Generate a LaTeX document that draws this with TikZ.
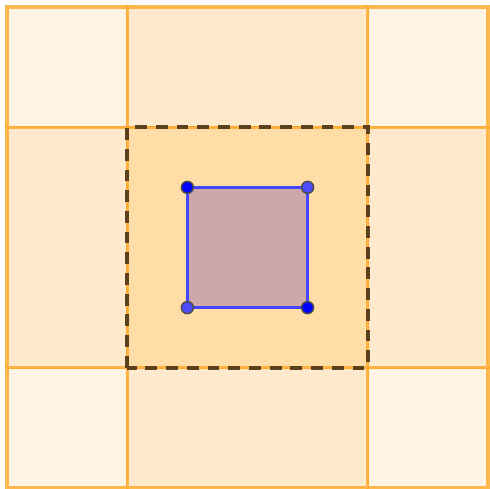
\documentclass[tikz,border=0pt]{standalone}
\usepackage{tikz}

\definecolor{cornerfill}{HTML}{FFF3E3}
\definecolor{edgefill}{HTML}{FFE9CC}
\definecolor{centerfill}{HTML}{FFDDA6}
\definecolor{innerfill}{HTML}{CCA8A8}
\definecolor{gridline}{HTML}{FFA726}
\definecolor{dashline}{HTML}{4A3418}
\definecolor{sqline}{HTML}{4545FF}
\definecolor{darkpt}{HTML}{0000FF}
\definecolor{lightpt}{HTML}{4D4DFF}

\tikzset{
  cell/.style={draw=gridline, draw opacity=0.8, line width=0.8pt},
  pt/.style={draw=black!70, line width=0.35pt},
}

\begin{document}
\begin{tikzpicture}
    \useasboundingbox (-0.058,-0.008) rectangle (4.017,4.058);
    % outer cells
    \filldraw[cell, fill=cornerfill] (0,0) rectangle (1,1);
    \filldraw[cell, fill=cornerfill] (3,0) rectangle (4,1);
    \filldraw[cell, fill=cornerfill] (0,3) rectangle (1,4);
    \filldraw[cell, fill=cornerfill] (3,3) rectangle (4,4);
    \filldraw[cell, fill=edgefill] (1,0) rectangle (3,1);
    \filldraw[cell, fill=edgefill] (1,3) rectangle (3,4);
    \filldraw[cell, fill=edgefill] (0,1) rectangle (1,3);
    \filldraw[cell, fill=edgefill] (3,1) rectangle (4,3);
    % middle cell
    \filldraw[cell, fill=centerfill] (1,1) rectangle (3,3);
    \draw[dashline, draw opacity=0.9, line width=0.85pt, dash pattern=on 2.8pt off 2.1pt] (1,1) rectangle (3,3);
    % small square
    \coordinate (A) at (1.5,2.5);
    \coordinate (B) at (2.5,2.5);
    \coordinate (C) at (2.5,1.5);
    \coordinate (D) at (1.5,1.5);
    \filldraw[draw=sqline, fill=innerfill, line width=0.65pt] (A) -- (B) -- (C) -- (D) -- cycle;
    \filldraw[pt, fill=darkpt] (A) circle (0.05);
    \filldraw[pt, fill=lightpt] (B) circle (0.05);
    \filldraw[pt, fill=darkpt] (C) circle (0.05);
    \filldraw[pt, fill=lightpt] (D) circle (0.05);
\end{tikzpicture}
\end{document}
